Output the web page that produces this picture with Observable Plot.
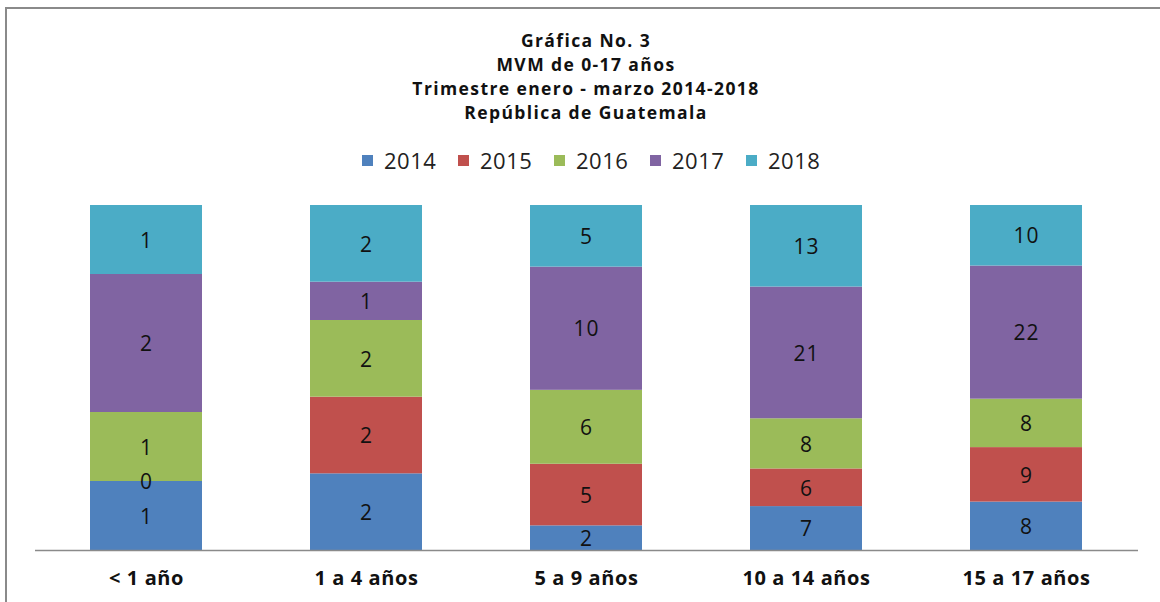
<!DOCTYPE html>
<html>
<head>
<meta charset="utf-8">
<script src="https://cdn.jsdelivr.net/npm/d3@7"></script>
<script src="https://cdn.jsdelivr.net/npm/@observablehq/plot@0.6"></script>
<style>
  html, body { margin: 0; padding: 0; background: #fff; }
  #wrap { position: relative; width: 1160px; height: 602px; overflow: hidden; font-family: "Open Sans", Lato, sans-serif; }
  #frame { position: absolute; left: 5px; top: 7px; width: 1200px; height: 700px; border-left: 2px solid #8a8a8a; border-top: 2px solid #8a8a8a; box-sizing: border-box; }
  #title { position: absolute; left: 0; width: 1172px; top: 28px; text-align: center; font-weight: bold; font-size: 17.5px; letter-spacing: 1.4px; line-height: 24px; color: #111; }
  #title div { height: 24px; }
  #legend { position: absolute; top: 146px; left: 0; width: 1160px; height: 28px; font-size: 22px; letter-spacing: 0.5px; color: #222; line-height: 28px; }
  #legend .item { position: absolute; top: 0; display: flex; align-items: center; }
  #legend .sw { width: 11px; height: 11px; margin-right: 11px; }
  #chart { position: absolute; left: 0; top: 190px; }
  #chart svg g[aria-label="x-axis tick label"] text { letter-spacing: 0.6px; }
  #chart svg g[aria-label="text"] text { letter-spacing: 1px; }
</style>
</head>
<body>
<div id="wrap">
  <div id="frame"></div>
  <div id="title"></div>
  <div id="legend"></div>
  <div id="chart"></div>
</div>
<script>
const titleLines = ["Gráfica No. 3", "MVM de 0-17 años", "Trimestre enero - marzo 2014-2018", "República de Guatemala"];
const categories = ["< 1 año", "1 a 4 años", "5 a 9 años", "10 a 14 años", "15 a 17 años"];
const years = ["2014", "2015", "2016", "2017", "2018"];
const colors = ["#4F81BD", "#C0504D", "#9BBB59", "#8064A2", "#4BACC6"];
const v2014 = [1, 2, 2, 7, 8];
const v2015 = [0, 2, 5, 6, 9];
const v2016 = [1, 2, 6, 8, 8];
const v2017 = [2, 1, 10, 21, 22];
const v2018 = [1, 2, 5, 13, 10];

const series = [v2014, v2015, v2016, v2017, v2018];
const data = [];
years.forEach((yr, i) => {
  categories.forEach((c, j) => data.push({cat: c, year: yr, value: series[i][j]}));
});

document.getElementById("title").innerHTML = titleLines.map(t => `<div>${t}</div>`).join("");
document.getElementById("legend").innerHTML = years.map((y, i) =>
  `<div class="item" style="left:${362 + i * 96}px"><div class="sw" style="background:${colors[i]}"></div><span>${y}</span></div>`).join("");

const chart = Plot.plot({
  width: 1160,
  height: 412,
  marginLeft: 35,
  marginRight: 22,
  marginTop: 15,
  marginBottom: 52,
  style: {fontFamily: "'Open Sans', Lato, sans-serif", background: "transparent"},
  x: {domain: categories, paddingInner: 0.49, paddingOuter: 0.245, label: null},
  y: {axis: null, domain: [0, 1]},
  color: {domain: years, range: colors},
  marks: [
    Plot.barY(data, Plot.stackY({x: "cat", y: "value", z: "year", fill: "year", offset: "normalize"})),
    Plot.text(data, Plot.stackY({x: "cat", y: "value", z: "year", offset: "normalize", text: d => String(d.value), fill: "#111", fontSize: 21, dy: 1})),
    Plot.ruleY([0], {stroke: "#8a8a8a", strokeWidth: 1.5}),
    Plot.axisX({tickSize: 0, tickPadding: 20, fontSize: 20, fontWeight: "bold", fill: "#111", label: null})
  ]
});
document.getElementById("chart").appendChild(chart);
</script>
</body>
</html>
